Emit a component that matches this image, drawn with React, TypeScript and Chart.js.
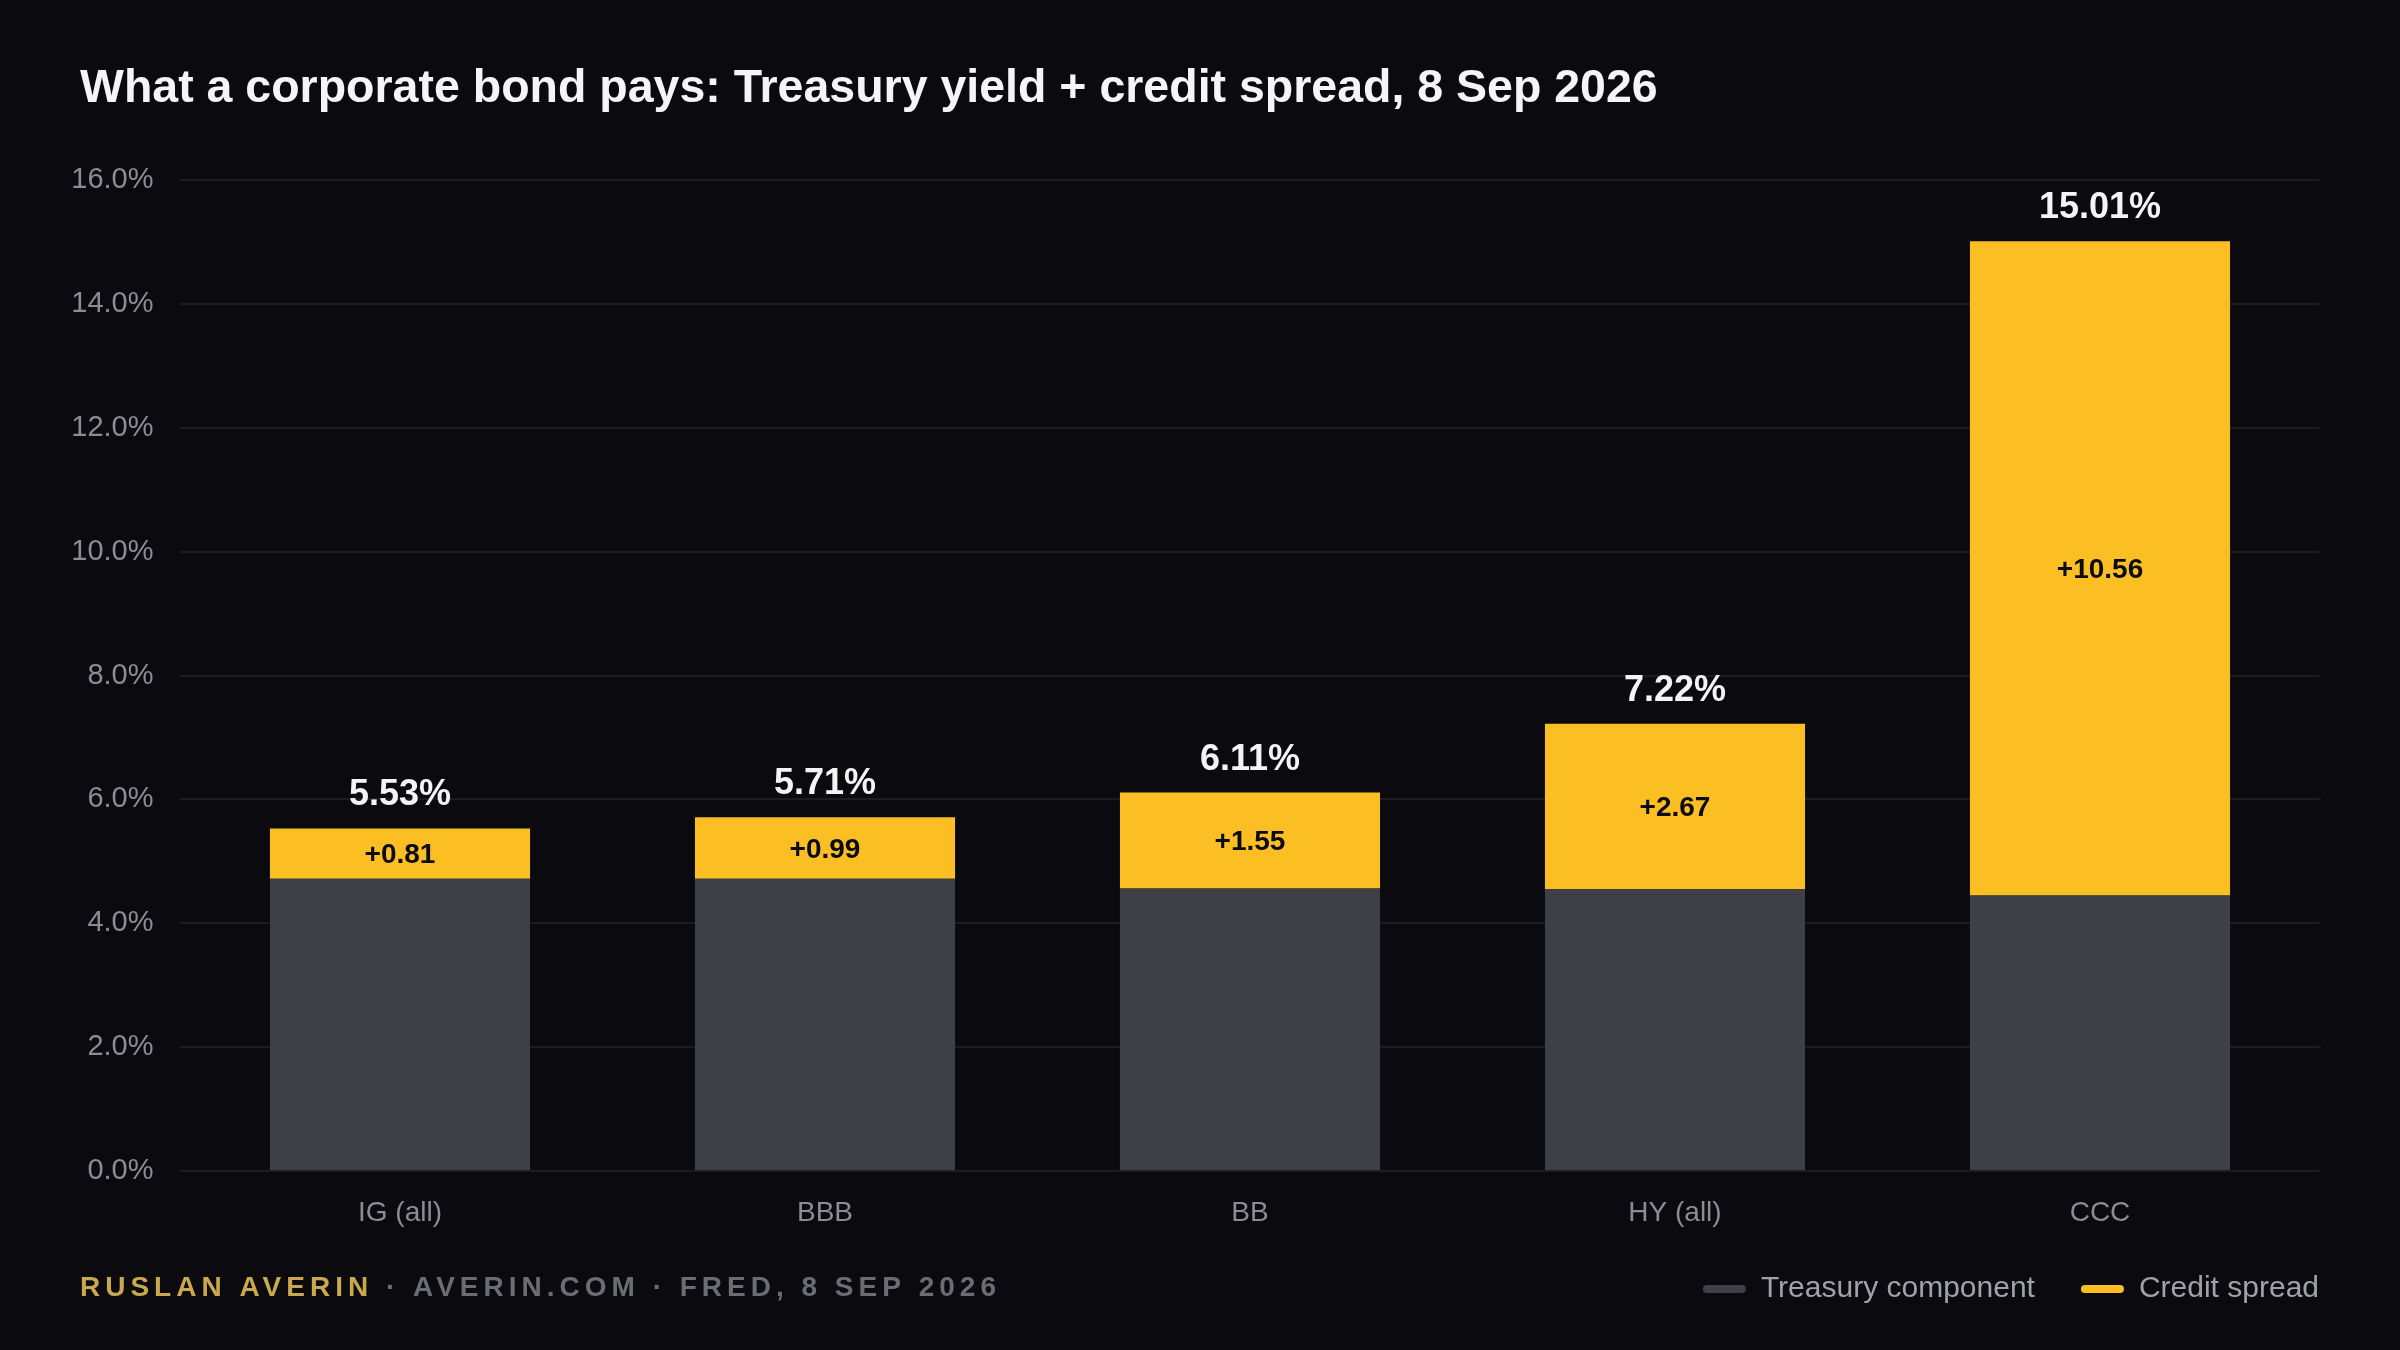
import React, { useEffect, useRef } from 'react';
import { Chart, registerables } from 'chart.js';

Chart.register(...registerables);

// ---- Data ----
const categories: string[] = ['IG (all)', 'BBB', 'BB', 'HY (all)', 'CCC'];
const treasuryComponent: number[] = [4.72, 4.72, 4.56, 4.55, 4.45];
const creditSpread: number[] = [0.81, 0.99, 1.55, 2.67, 10.56];
const totalYield: number[] = [5.53, 5.71, 6.11, 7.22, 15.01];
const seriesNames: string[] = ['Treasury component', 'Credit spread'];
const yMin = 0;
const yMax = 16;
const yStep = 2;

const titleText = 'What a corporate bond pays: Treasury yield + credit spread, 8 Sep 2026';
const footerAuthor = 'RUSLAN AVERIN';
const footerRest = ' · AVERIN.COM · FRED, 8 SEP 2026';

// ---- Styles ----
const FONT = '"Liberation Sans", Arial, Helvetica, sans-serif';
const BG = '#0a0a0f';
const GRID = '#1c1c22';
const TICK = '#8c8c95';
const GRAY_BAR = '#3f4046';
const YELLOW = '#fbbf24';

const W = 2400;
const H = 1350;

const labelsPlugin = {
  id: 'barLabels',
  afterDatasetsDraw(chart: any) {
    const ctx = chart.ctx;
    const meta = chart.getDatasetMeta(1);
    ctx.save();
    meta.data.forEach((el: any, i: number) => {
      const p = el.getProps(['x', 'y', 'base'], true);
      ctx.textAlign = 'center';
      ctx.textBaseline = 'middle';
      ctx.font = `bold 28px ${FONT}`;
      ctx.fillStyle = '#0b0b10';
      ctx.fillText('+' + creditSpread[i].toFixed(2), p.x, (p.y + p.base) / 2 + 2);
      ctx.textBaseline = 'alphabetic';
      ctx.font = `bold 36px ${FONT}`;
      ctx.fillStyle = '#f4f4f5';
      ctx.fillText(totalYield[i].toFixed(2) + '%', p.x, p.y - 23);
    });
    ctx.restore();
  },
};

const textPlugin = {
  id: 'headerFooter',
  afterDraw(chart: any) {
    const ctx = chart.ctx;
    ctx.save();
    // title
    ctx.textAlign = 'left';
    ctx.textBaseline = 'alphabetic';
    ctx.font = `bold 46.5px ${FONT}`;
    ctx.fillStyle = '#f5f5f7';
    ctx.fillText(titleText, 80, 102);
    // footer
    ctx.font = `bold 28px ${FONT}`;
    try {
      (ctx as any).letterSpacing = '5px';
    } catch (e) {}
    const x0 = 80;
    const yb = 1296;
    ctx.fillStyle = '#c9a84e';
    ctx.fillText(footerAuthor, x0, yb);
    const w = ctx.measureText(footerAuthor).width;
    ctx.fillStyle = '#6c6c74';
    ctx.fillText(footerRest, x0 + w, yb);
    ctx.restore();
  },
};

export default function App() {
  const canvasRef = useRef<HTMLCanvasElement | null>(null);

  useEffect(() => {
    document.body.style.margin = '0';
    document.body.style.background = BG;
    const canvas = canvasRef.current;
    if (!canvas) return;

    const chart = new Chart(canvas, {
      type: 'bar',
      data: {
        labels: categories,
        datasets: [
          {
            label: seriesNames[0],
            data: treasuryComponent,
            backgroundColor: GRAY_BAR,
            borderWidth: 0,
            yAxisID: 'y',
            categoryPercentage: 1,
            barPercentage: 0.612,
          },
          {
            label: seriesNames[1],
            data: creditSpread,
            backgroundColor: YELLOW,
            borderWidth: 0,
            yAxisID: 'y',
            categoryPercentage: 1,
            barPercentage: 0.612,
          },
        ],
      },
      options: {
        responsive: false,
        animation: false,
        devicePixelRatio: 1,
        layout: { padding: { left: 50, right: 35, top: 180, bottom: 36 } },
        font: { family: FONT },
        scales: {
          x: {
            stacked: true,
            grid: { display: false, drawTicks: false },
            border: { display: false },
            ticks: { color: TICK, font: { size: 28, family: FONT }, padding: 25 },
            afterFit: (s: any) => {
              s.height = 57;
            },
          },
          y: {
            stacked: true,
            min: yMin,
            max: yMax,
            position: 'left',
            grid: { color: GRID, lineWidth: 2, drawTicks: true, tickLength: 8 },
            border: { display: false },
            ticks: {
              stepSize: yStep,
              color: TICK,
              font: { size: 29, family: FONT },
              padding: 26,
              callback: (v: any) => Number(v).toFixed(1) + '%',
            },
            afterFit: (s: any) => {
              s.width = 137.5;
            },
          },
          yR: {
            type: 'linear',
            position: 'right',
            min: yMin,
            max: yMax,
            grid: { color: GRID, lineWidth: 2, drawOnChartArea: false, drawTicks: true, tickLength: 8 },
            border: { display: false },
            ticks: { display: false, stepSize: yStep },
            afterFit: (s: any) => {
              s.width = 52.5;
            },
          },
        },
        plugins: {
          title: { display: false },
          legend: {
            display: true,
            position: 'bottom',
            align: 'end',
            labels: {
              color: '#a1a1aa',
              font: { size: 30, family: FONT },
              boxWidth: 43,
              boxHeight: 8,
              useBorderRadius: true,
              borderRadius: 4,
              padding: 46,
            },
          },
          tooltip: { enabled: false },
        },
      },
      plugins: [labelsPlugin, textPlugin],
    } as any);

    return () => {
      chart.destroy();
    };
  }, []);

  return (
    <div style={{ width: W, height: H, background: BG, position: 'relative', overflow: 'hidden' }}>
      <canvas ref={canvasRef} width={W} height={H} style={{ display: 'block', width: W, height: H }} />
    </div>
  );
}
